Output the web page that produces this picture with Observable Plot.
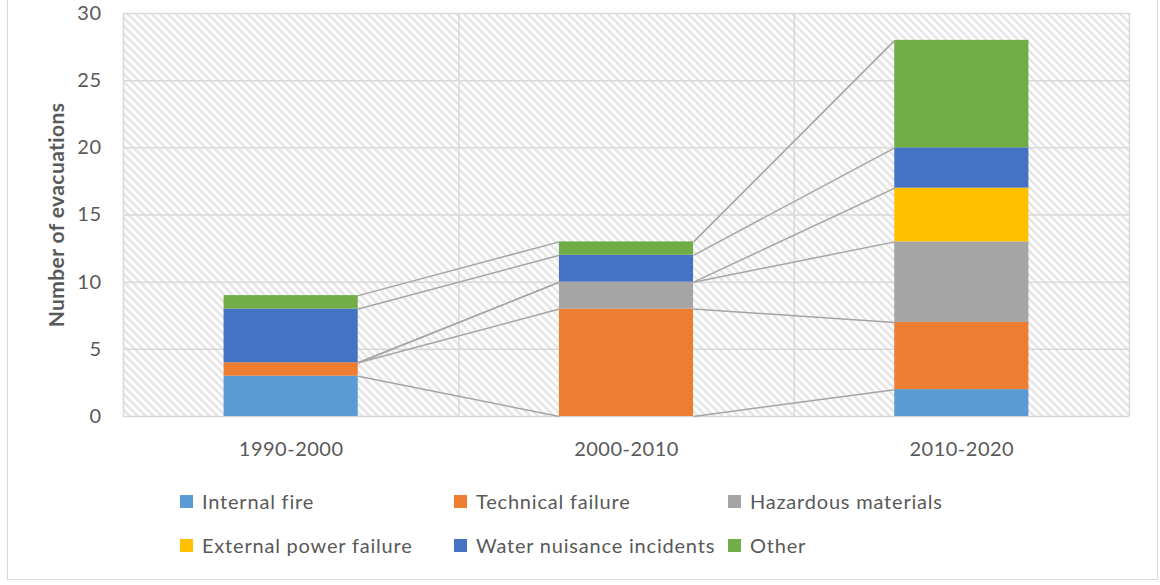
<!DOCTYPE html>
<html>
<head>
<meta charset="utf-8">
<script src="https://cdn.jsdelivr.net/npm/d3@7"></script>
<script src="https://cdn.jsdelivr.net/npm/@observablehq/plot@0.6"></script>
<style>
  html, body { margin: 0; padding: 0; background: #fff; }
  #wrap { position: relative; width: 1160px; height: 585px; overflow: hidden; font-family: Lato, "Open Sans", sans-serif; color: #595959; }
  #border { position: absolute; left: 7px; top: -2px; width: 1151px; height: 582px; border: 1.5px solid #d9d9d9; box-sizing: border-box; }
  #chart { position: absolute; left: 0; top: 0; }
  .leg { position: absolute; height: 20px; display: flex; align-items: center; font-size: 20px; letter-spacing: 0.8px; white-space: nowrap; color: #595959; }
  .sw { width: 13px; height: 13px; margin-right: 9px; flex: none; }
</style>
</head>
<body>
<div id="wrap">
  <div id="border"></div>
  <div id="chart"></div>
  <div id="legend"></div>
</div>
<script>
// ---- data ----
const periods = ["1990-2000", "2000-2010", "2010-2020"];
const causes = ["Internal fire", "Technical failure", "Hazardous materials", "External power failure", "Water nuisance incidents", "Other"];
const causeColors = ["#5B9BD5", "#ED7D31", "#A5A5A5", "#FFC000", "#4472C4", "#70AD47"];
const internalFire = [3, 0, 2];
const technicalFailure = [1, 8, 5];
const hazardousMaterials = [0, 2, 6];
const externalPowerFailure = [0, 0, 4];
const waterNuisance = [4, 2, 3];
const other = [1, 1, 8];
const yTicks = [0, 5, 10, 15, 20, 25, 30];
const legendRows = [[0, 1, 2], [3, 4, 5]];

// ---- build stacked table ----
const seriesValues = [internalFire, technicalFailure, hazardousMaterials, externalPowerFailure, waterNuisance, other];
const barHalf = 0.2;
const segs = [];
periods.forEach((p, i) => {
  let acc = 0;
  causes.forEach((c, k) => {
    const v = seriesValues[k][i];
    segs.push({period: p, i, cause: c, k, y1: acc, y2: acc + v});
    acc += v;
  });
});
const links = [];
for (let i = 0; i < periods.length - 1; i++) {
  causes.forEach((c, k) => {
    const a = segs.find(s => s.i === i && s.k === k);
    const b = segs.find(s => s.i === i + 1 && s.k === k);
    links.push({x1: i + 0.5 + barHalf, y1: a.y2, x2: i + 1.5 - barHalf, y2: b.y2});
  });
}

const font = "Lato, 'Open Sans', sans-serif";
const svg = Plot.plot({
  width: 1160,
  height: 470,
  marginLeft: 123,
  marginRight: 31,
  marginTop: 13,
  marginBottom: 54,
  style: {fontFamily: font, fontSize: "20px", color: "#595959", background: "transparent", overflow: "visible"},
  x: {type: "linear", domain: [0, periods.length], axis: null},
  y: {domain: [0, 30], axis: null},
  marks: [
    Plot.frame({fill: "url(#hatch)", stroke: null}),
    Plot.ruleY(yTicks, {stroke: "#d9d9d9", strokeWidth: 1.5}),
    Plot.ruleX(d3.range(periods.length + 1), {stroke: "#d9d9d9", strokeWidth: 1.5}),
    Plot.rectY(segs, {
      x1: d => d.i + 0.5 - barHalf, x2: d => d.i + 0.5 + barHalf,
      y1: "y1", y2: "y2",
      fill: d => causeColors[d.k], stroke: null, inset: 0
    }),
    Plot.link(links, {x1: "x1", y1: "y1", x2: "x2", y2: "y2", stroke: "#a5a5a5", strokeWidth: 1.5}),
    Plot.axisY(yTicks, {tickSize: 0, tickPadding: 22, label: null, fontSize: 20, fill: "#595959"}),
    Plot.axisX(periods.map((p, i) => i + 0.5), {tickSize: 0, tickPadding: 25, label: null, tickFormat: (d) => periods[Math.floor(d)], fontSize: 20, fill: "#595959"}),
    Plot.text(["Number of evacuations"], {frameAnchor: "left", textAnchor: "middle", rotate: -90, dx: -66, fontWeight: "bold", fontSize: 21, fill: "#595959"})
  ]
});

// hatch pattern definition
const defs = d3.select(svg).insert("defs", ":first-child");
const pat = defs.append("pattern")
  .attr("id", "hatch")
  .attr("patternUnits", "userSpaceOnUse")
  .attr("width", 5.66).attr("height", 10)
  .attr("patternTransform", "rotate(-45)");
pat.append("rect").attr("width", 5.66).attr("height", 10).attr("fill", "#ffffff");
pat.append("rect").attr("width", 2.6).attr("height", 10).attr("fill", "#e5e5e5");

// letter spacing for axis texts, like the reference's spread-out text
d3.select(svg).selectAll("[aria-label='y-axis tick label'] text, [aria-label='x-axis tick label'] text").style("letter-spacing", "0.5px");
d3.select(svg).selectAll("[aria-label='text'] text").style("letter-spacing", "0.4px");

document.getElementById("chart").appendChild(svg);

// legend
const legend = document.getElementById("legend");
const colX = [180, 454, 728];
const rowY = [501, 545];
legendRows.forEach((row, r) => {
  row.forEach((k, c) => {
    const el = document.createElement("div");
    el.className = "leg";
    el.style.left = colX[c] + "px";
    el.style.top = (rowY[r] - 10) + "px";
    const sw = document.createElement("span");
    sw.className = "sw";
    sw.style.background = causeColors[k];
    el.appendChild(sw);
    el.appendChild(document.createTextNode(causes[k]));
    legend.appendChild(el);
  });
});
</script>
</body>
</html>
